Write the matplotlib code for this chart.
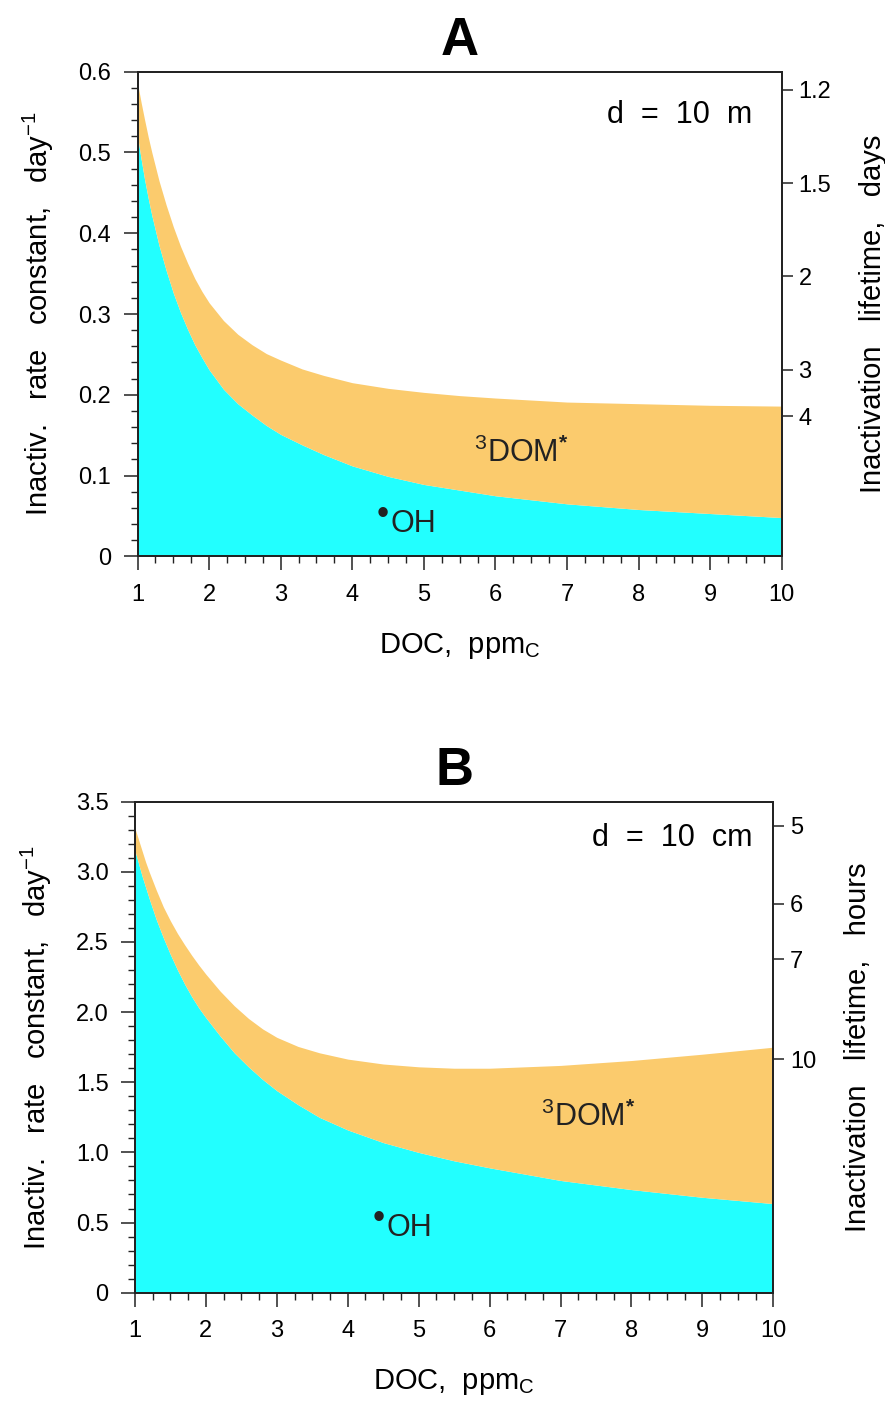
import numpy as np
import matplotlib
matplotlib.use("Agg")
import matplotlib.pyplot as plt

plt.rcParams['font.family'] = ['Liberation Sans', 'DejaVu Sans']
plt.rcParams['mathtext.fontset'] = 'custom'
plt.rcParams['mathtext.rm'] = 'Liberation Sans'
plt.rcParams['mathtext.it'] = 'Liberation Sans'
plt.rcParams['mathtext.bf'] = 'Liberation Sans:bold'

# DOC, ppmC
doc = [1.0, 1.05, 1.1, 1.15, 1.2, 1.3, 1.4, 1.5, 1.6, 1.7, 1.8, 1.9, 2.0, 2.2, 2.4, 2.6, 2.8,
       3.0, 3.3, 3.6, 4.0, 4.5, 5.0, 5.5, 6.0, 7.0, 8.0, 9.0, 10.0]

# panel A, d = 10 m (day^-1)
oh_a = [0.520, 0.492, 0.466, 0.443, 0.422, 0.385, 0.354, 0.326, 0.302, 0.281, 0.262, 0.246,
        0.231, 0.207, 0.189, 0.175, 0.162, 0.151, 0.138, 0.126, 0.112, 0.099, 0.089, 0.082,
        0.075, 0.065, 0.058, 0.053, 0.048]
total_a = [0.586, 0.562, 0.540, 0.519, 0.500, 0.465, 0.435, 0.408, 0.384, 0.363, 0.344, 0.328,
           0.314, 0.292, 0.275, 0.262, 0.251, 0.243, 0.232, 0.224, 0.215, 0.208, 0.203, 0.199,
           0.196, 0.191, 0.189, 0.187, 0.186]

# panel B, d = 10 cm (day^-1)
oh_b = [3.15, 3.06, 2.97, 2.89, 2.81, 2.66, 2.53, 2.41, 2.30, 2.20, 2.11, 2.03, 1.96, 1.83,
        1.71, 1.61, 1.52, 1.44, 1.34, 1.25, 1.16, 1.07, 1.00, 0.94, 0.89, 0.80, 0.735, 0.68, 0.635]
total_b = [3.31, 3.23, 3.15, 3.07, 3.00, 2.87, 2.75, 2.65, 2.56, 2.48, 2.405, 2.335, 2.27, 2.15,
           2.045, 1.955, 1.88, 1.82, 1.755, 1.71, 1.665, 1.63, 1.61, 1.60, 1.60, 1.62, 1.655, 1.70,
           1.75]

life_a = [1.2, 1.5, 2, 3, 4]      # days
life_b = [5, 6, 7, 10]            # hours

cyan = '#22FFFF'
orange = '#FBCB6D'
dark = '#222222'
TICK = 17
LAB = 21


def panel(rect, oh, total, ymax, ymaj, ymin, ylabels, lives, life_scale, life_unit,
          depth, dom_xy, dot_xy, oh_xy, letter, dtext_xy):
    ax = fig.add_axes(rect)
    ax.fill_between(doc, 0, oh, color=cyan, lw=0)
    ax.fill_between(doc, oh, total, color=orange, lw=0)
    ax.set_xlim(1, 10)
    ax.set_ylim(0, ymax)

    ax.set_xticks(range(1, 11))
    ax.set_xticks(np.arange(1, 10.01, 0.25), minor=True)
    ax.set_yticks(ymaj)
    ax.set_yticklabels(ylabels)
    ax.set_yticks(ymin, minor=True)
    ax.tick_params(which='major', length=10, width=1.1, labelsize=TICK, pad=9, color=dark)
    ax.tick_params(which='minor', length=5, width=1.0, color=dark)
    ax.tick_params(axis='x', pad=10)
    for s in ax.spines.values():
        s.set_linewidth(1.3)
        s.set_color(dark)

    ax.set_xlabel('DOC,  ppm$_\\mathregular{C}$', fontsize=LAB, labelpad=18)
    ax.set_ylabel('Inactiv.   rate   constant,   day$^{-1}$', fontsize=LAB, labelpad=16)

    ax2 = ax.twinx()
    ax2.set_ylim(0, ymax)
    ax2.set_yticks([life_scale * np.log(2) / t for t in lives])
    ax2.set_yticklabels([str(t) for t in lives])
    ax2.tick_params(length=8, width=1.1, labelsize=TICK, pad=4, color=dark)
    ax2.set_ylabel('Inactivation   lifetime,   ' + life_unit, fontsize=LAB, labelpad=20)
    for s in ax2.spines.values():
        s.set_linewidth(1.3)
        s.set_color(dark)

    ax.text(dtext_xy[0], dtext_xy[1], depth, transform=ax.transAxes, ha='right', va='center',
            fontsize=LAB + 1)
    ax.text(dom_xy[0], dom_xy[1], '$^3$DOM$^\\mathbf{*}$', ha='center', va='center',
            fontsize=LAB + 1, color=dark)
    ax.text(dot_xy[0], dot_xy[1], '\u2022', ha='center', va='center',
            fontsize=LAB + 4, color=dark)
    ax.text(oh_xy[0], oh_xy[1], 'OH', ha='left', va='center',
            fontsize=LAB + 1, color=dark)
    ax.set_title(letter, fontsize=38, fontweight='bold', pad=12)
    return ax


fig = plt.figure(figsize=(8.85, 14.01), dpi=100)

panel([0.1554, 0.6029, 0.7279, 0.3459], oh_a, total_a, 0.6,
      np.arange(0, 0.61, 0.1), np.arange(0, 0.601, 0.02),
      ['0', '0.1', '0.2', '0.3', '0.4', '0.5', '0.6'],
      life_a, 1.0, 'days', 'd  =  10  m', (6.36, 0.128), (4.43, 0.052), (4.53, 0.040),
      'A', (0.954, 0.911))

panel([0.1525, 0.0773, 0.7213, 0.3505], oh_b, total_b, 3.5,
      np.arange(0, 3.51, 0.5), np.arange(0, 3.501, 0.1),
      ['0', '0.5', '1.0', '1.5', '2.0', '2.5', '3.0', '3.5'],
      life_b, 24.0, 'hours', 'd  =  10  cm', (7.39, 1.25), (4.43, 0.532), (4.54, 0.461),
      'B', (0.967, 0.926))

fig.savefig('out.png', dpi=100)
